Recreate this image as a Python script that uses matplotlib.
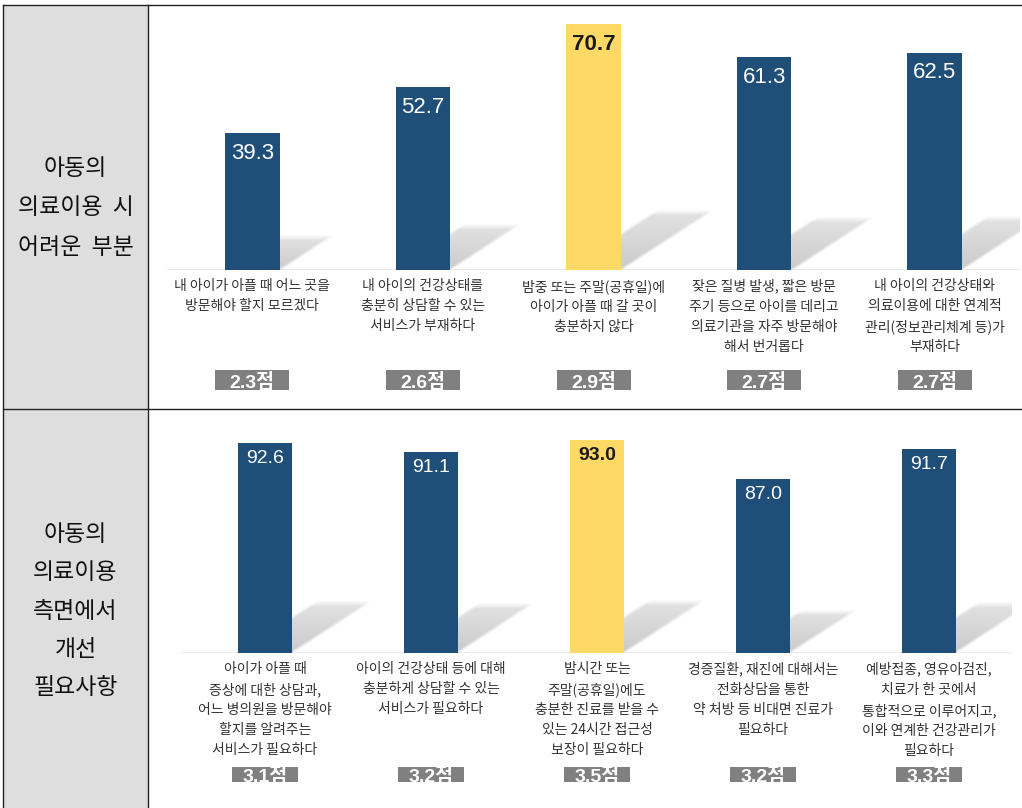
import numpy as np
import matplotlib.pyplot as plt
from matplotlib.patches import Rectangle
from matplotlib.lines import Line2D

plt.rcParams['font.family'] = ['Noto Sans CJK KR', 'DejaVu Sans']

# ---- data ----
top_title = "아동의\n의료이용  시\n어려운  부분"
top_labels = [
    "내 아이가 아플 때 어느 곳을\n방문해야 할지 모르겠다",
    "내 아이의 건강상태를\n충분히 상담할 수 있는\n서비스가 부재하다",
    "밤중 또는 주말(공휴일)에\n아이가 아플 때 갈 곳이\n충분하지 않다",
    "잦은 질병 발생, 짧은 방문\n주기 등으로 아이를 데리고\n의료기관을 자주 방문해야\n해서 번거롭다",
    "내 아이의 건강상태와\n의료이용에 대한 연계적\n관리(정보관리체계 등)가\n부재하다",
]
top_values = [39.3, 52.7, 70.7, 61.3, 62.5]
top_scores = [2.3, 2.6, 2.9, 2.7, 2.7]

bottom_title = "아동의\n의료이용\n측면에서\n개선\n필요사항"
bottom_labels = [
    "아이가 아플 때\n증상에 대한 상담과,\n어느 병의원을 방문해야\n할지를 알려주는\n서비스가 필요하다",
    "아이의 건강상태 등에 대해\n충분하게 상담할 수 있는\n서비스가 필요하다",
    "밤시간 또는\n주말(공휴일)에도\n충분한 진료를 받을 수\n있는 24시간 접근성\n보장이 필요하다",
    "경증질환, 재진에 대해서는\n전화상담을 통한\n약 처방 등 비대면 진료가\n필요하다",
    "예방접종, 영유아검진,\n치료가 한 곳에서\n통합적으로 이루어지고,\n이와 연계한 건강관리가\n필요하다",
]
bottom_values = [92.6, 91.1, 93.0, 87.0, 91.7]
bottom_scores = [3.1, 3.2, 3.5, 3.2, 3.3]

highlight = 2

NAVY = '#1f4e79'
YELLOW = '#ffd966'
BAR_W = 0.32
NUM_FONT = ['Liberation Sans', 'Noto Sans CJK KR']

W, H, DPI = 1022, 808, 100
fig = plt.figure(figsize=(W / DPI, H / DPI), dpi=DPI)


def frac(x0, y0, x1, y1):
    # pixel box measured from the top-left corner -> figure rect
    return [x0 / W, 1 - y1 / H, (x1 - x0) / W, (y1 - y0) / H]


def shadow(ax, i, base, dx, dy, sx, sy):
    xl = i - BAR_W / 2
    x0, x1 = xl - 0.03, xl + BAR_W + dx + 0.05
    y0, y1 = base, base + dy + 5 / sy
    nx = max(int((x1 - x0) * sx), 2)
    ny = max(int((y1 - y0) * sy), 2)
    X, Y = np.meshgrid(np.linspace(x0, x1, nx), np.linspace(y0, y1, ny))
    t = (Y - base) / dy
    u = (X - xl - t * dx) / BAR_W
    blur = 6.0
    a = (np.clip(u * BAR_W * sx / blur + 0.5, 0, 1)
         * np.clip((1 - u) * BAR_W * sx / blur + 0.5, 0, 1)
         * np.clip((1 - t) * dy * sy / blur + 0.5, 0, 1))
    a *= 0.46 * (1 - 0.45 * np.clip(t, 0, 1))
    rgba = np.zeros((ny, nx, 4))
    rgba[..., :3] = 0.55
    rgba[..., 3] = a
    ax.imshow(rgba, extent=(x0, x1, y0, y1), origin='lower', aspect='auto',
              zorder=1, interpolation='bilinear')


def draw_panel(ax, values, labels, scores, ymin, ymax, value_size,
               value_gap, box_y, box_w, box_h):
    n = len(values)
    x = np.arange(n)
    bb = ax.get_position()
    sx = bb.width * W / n
    sy = bb.height * H / (ymax - ymin)

    colors = [YELLOW if i == highlight else NAVY for i in x]
    ax.bar(x, [v - ymin for v in values], bottom=ymin, width=BAR_W,
           color=colors, zorder=3)
    ax.axhline(ymin, color='#e4e4e4', lw=1.8, zorder=2)

    for i, v, lab, s in zip(x, values, labels, scores):
        h = (v - ymin) * sy
        shadow(ax, i, ymin, 0.36 * h / sx, 0.235 * h / sy, sx, sy)
        tc = '#1a1a1a' if i == highlight else 'white'
        fw = 'bold' if i == highlight else 'normal'
        ax.text(i, v - value_gap / sy, f"{v:.1f}", ha='center', va='top',
                fontsize=value_size, color=tc, fontweight=fw,
                family=NUM_FONT, zorder=4)
        ax.annotate(lab, xy=(i, ymin), xytext=(0, -9),
                    textcoords='offset pixels', ha='center', va='top',
                    fontsize=10, color='#333333', linespacing=1.55,
                    annotation_clip=False)
        ax.add_patch(Rectangle((i - box_w / 2 / sx, ymin - (box_y + box_h) / sy),
                               box_w / sx, box_h / sy, fc='#808080', ec='none',
                               clip_on=False, zorder=3))
        ax.text(i, ymin - (box_y + box_h / 2) / sy, f"{s}점", ha='center',
                va='center_baseline', fontsize=14, fontweight='bold',
                color='white', family=NUM_FONT, zorder=4, clip_on=False)

    ax.set_xlim(-0.5, n - 0.5)
    ax.set_ylim(ymin, ymax)
    ax.axis('off')


# left header column and table lines
fig.add_artist(Rectangle((3 / W, 0), 145 / W, 1 - 5 / H,
                         transform=fig.transFigure, fc='#dedede', ec='none'))
line_kw = dict(transform=fig.transFigure, color='#222222', lw=1.0)
fig.add_artist(Line2D([3 / W, 1], [1 - 5 / H, 1 - 5 / H], **line_kw))
fig.add_artist(Line2D([3 / W, 1], [1 - 409 / H, 1 - 409 / H], **line_kw))
fig.add_artist(Line2D([3 / W, 3 / W], [0, 1 - 5 / H], **line_kw))
fig.add_artist(Line2D([148 / W, 148 / W], [0, 1 - 5 / H], **line_kw))

fig.text(75.5 / W, 1 - 208 / H, top_title, ha='center', va='center',
         fontsize=16.5, linespacing=1.9, color='#111111')
fig.text(75.5 / W, 1 - 611 / H, bottom_title, ha='center', va='center',
         fontsize=16.5, linespacing=1.84, color='#111111')

ax_top = fig.add_axes(frac(167, 20, 1020, 270))
draw_panel(ax_top, top_values, top_labels, top_scores, 0, 250 / 3.48,
           16, 10, 100, 74, 20)

ax_bot = fig.add_axes(frac(182, 420, 1012, 653))
draw_panel(ax_bot, bottom_values, bottom_labels, bottom_scores, 60,
           60 + 233 / 6.45, 14, 7, 114, 66, 15)

fig.savefig('out.png', dpi=DPI)
